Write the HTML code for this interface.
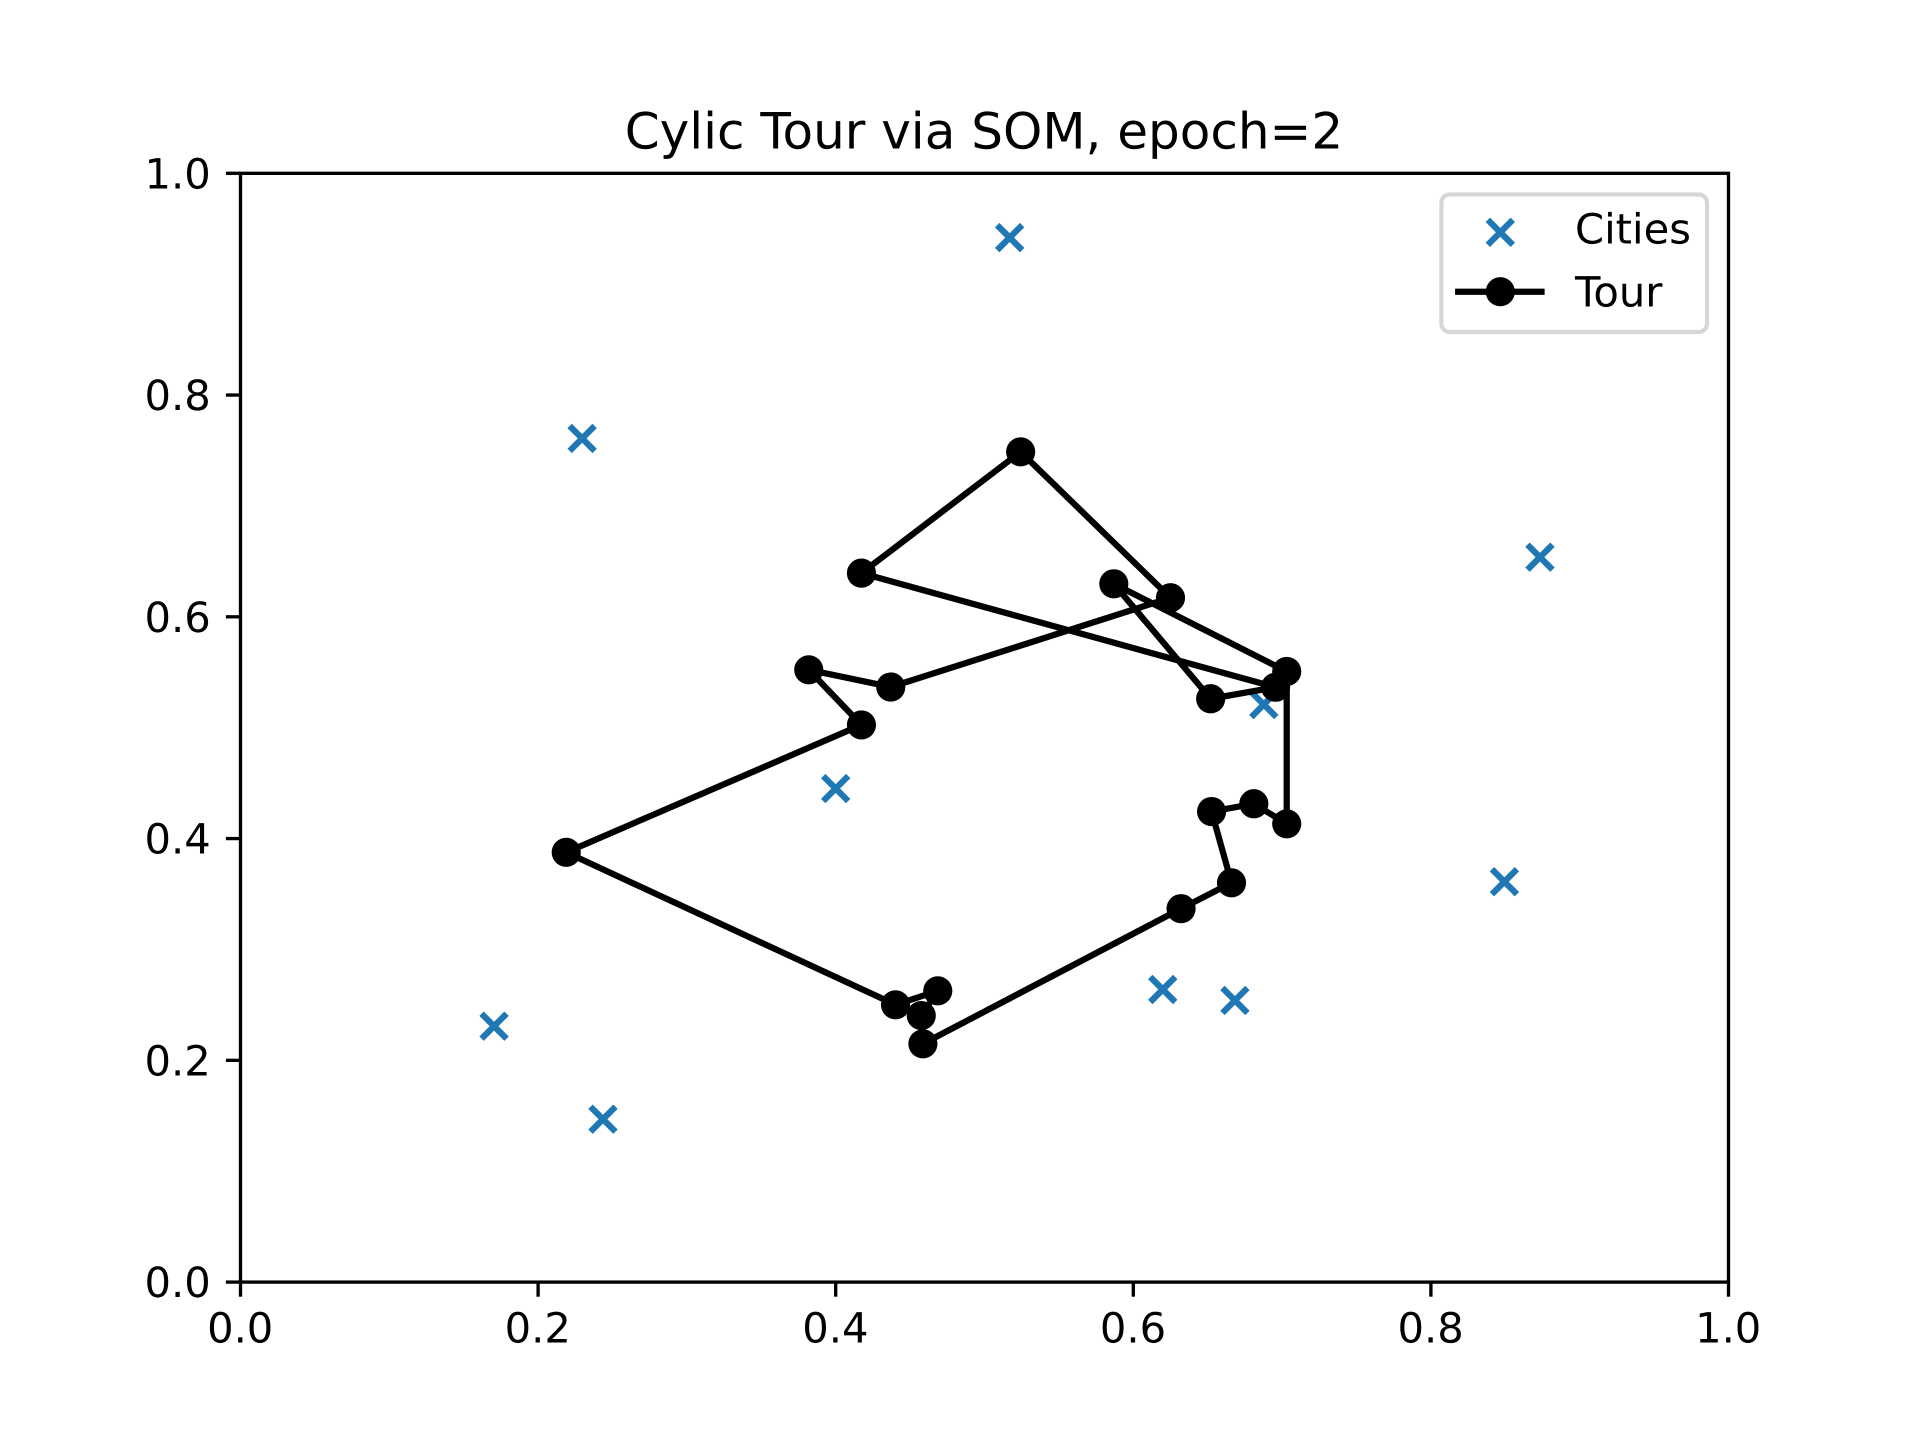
<!DOCTYPE html>
<html lang="en">
<head>
<meta charset="utf-8">
<title>Cylic Tour via SOM, epoch=2</title>
<style>
  html, body { margin: 0; padding: 0; background: #ffffff; }
  body { width: 1920px; height: 1440px; overflow: hidden; }
  svg { display: block; }
  text { font-family: "DejaVu Sans", "Liberation Sans", sans-serif; fill: #000000; text-rendering: geometricPrecision; }
</style>
</head>
<body>
<svg id="chart" xmlns="http://www.w3.org/2000/svg" width="1920" height="1440" viewBox="0 0 1920 1440">
  <rect x="0" y="0" width="1920" height="1440" fill="#ffffff"/>
  <rect x="240.5" y="173.3" width="1488" height="1108.8" fill="#ffffff"/>
  <g id="cities-layer"></g>
  <g id="tour-layer"></g>
  <g id="x-axis"></g>
  <g id="y-axis"></g>
  <rect x="240.5" y="173.3" width="1488" height="1108.8" fill="none" stroke="#000000" stroke-width="3.33"/>
  <text x="984" y="148.3" font-size="50" text-anchor="middle">Cylic Tour via SOM, epoch=2</text>
  <g>
    <rect x="1441.4" y="194.4" width="265.6" height="137.6" rx="8.3" ry="8.3" fill="#ffffff" fill-opacity="0.8" stroke="#d6d6d6" stroke-width="4.17"/>
    <g>
      <path d="M1487.8 219.8L1512.8 244.8M1487.8 244.8L1512.8 219.8" fill="none" stroke="#1f77b4" stroke-width="6.25"/>
      <text x="1575" y="243.3" font-size="41.67">Cities</text>
    </g>
    <g>
      <line x1="1458.2" y1="291.7" x2="1541.5" y2="291.7" stroke="#000000" stroke-width="6.25" stroke-linecap="square"/>
      <circle cx="1500.3" cy="291.7" r="14.58" fill="#000000"/>
      <text x="1575" y="306.7" font-size="41.67">Tour</text>
    </g>
  </g>
</svg>
<script>
const xTickValues = [0.0, 0.2, 0.4, 0.6, 0.8, 1.0];
const yTickValues = [0.0, 0.2, 0.4, 0.6, 0.8, 1.0];
const xTickLabels = ["0.0", "0.2", "0.4", "0.6", "0.8", "1.0"];
const yTickLabels = ["0.0", "0.2", "0.4", "0.6", "0.8", "1.0"];
const cityX = [0.5169, 0.2296, 0.8733, 0.6877, 0.4000, 0.8494, 0.6198, 0.6683, 0.1704, 0.2436];
const cityY = [0.9420, 0.7609, 0.6538, 0.5209, 0.4451, 0.3611, 0.2639, 0.2540, 0.2308, 0.1469];
const tourX = [0.5869, 0.6520, 0.6956, 0.4173, 0.5243, 0.6250, 0.4370, 0.3819, 0.4173, 0.2189, 0.4402, 0.4686, 0.4575, 0.4586, 0.6321, 0.6660, 0.6526, 0.6810, 0.7031, 0.7031];
const tourY = [0.6298, 0.5261, 0.5365, 0.6394, 0.7488, 0.6172, 0.5367, 0.5522, 0.5025, 0.3876, 0.2501, 0.2627, 0.2404, 0.2149, 0.3368, 0.3601, 0.4244, 0.4314, 0.4133, 0.5507];

const NS = "http://www.w3.org/2000/svg";
function xScale(v) { return 240.5 + v * 1488; }
function yScale(v) { return 1282.1 - v * 1108.8; }
function make(tag, parent) {
  const el = document.createElementNS(NS, tag);
  parent.appendChild(el);
  return el;
}

const citiesLayer = document.getElementById("cities-layer");
cityX.forEach(function (v, i) {
  const cx = xScale(v);
  const cy = yScale(cityY[i]);
  const h = 12.5;
  const city = make("path", citiesLayer);
  
  
  city.setAttribute("d", "M" + (cx - h) + " " + (cy - h) + "L" + (cx + h) + " " + (cy + h) + "M" + (cx - h) + " " + (cy + h) + "L" + (cx + h) + " " + (cy - h));
  city.setAttribute("fill", "none");
  city.setAttribute("stroke", "#1f77b4");
  city.setAttribute("stroke-width", "6.25");
});

const tourLayer = document.getElementById("tour-layer");
const tourLine = make("polygon", tourLayer);


tourLine.setAttribute("points", tourX.map(function (v, i) { return xScale(v) + "," + yScale(tourY[i]); }).join(" "));
tourLine.setAttribute("fill", "none");
tourLine.setAttribute("stroke", "#000000");
tourLine.setAttribute("stroke-width", "6.25");
tourLine.setAttribute("stroke-linejoin", "round");
tourX.forEach(function (v, i) {
  const node = make("circle", tourLayer);
  
  
  node.setAttribute("cx", xScale(v));
  node.setAttribute("cy", yScale(tourY[i]));
  node.setAttribute("r", "14.58");
  node.setAttribute("fill", "#000000");
});

const xAxis = document.getElementById("x-axis");
xTickValues.forEach(function (v, i) {
  const x = xScale(v);
  const tick = make("line", xAxis);
  
  
  tick.setAttribute("x1", x);
  tick.setAttribute("x2", x);
  tick.setAttribute("y1", yScale(0));
  tick.setAttribute("y2", yScale(0) + 14.6);
  tick.setAttribute("stroke", "#000000");
  tick.setAttribute("stroke-width", "3.33");
  const label = make("text", xAxis);
  
  
  label.setAttribute("x", x - 0.3);
  label.setAttribute("y", 1342.3);
  label.setAttribute("font-size", "41.67");
  label.setAttribute("text-anchor", "middle");
  label.textContent = xTickLabels[i];
});

const yAxis = document.getElementById("y-axis");
yTickValues.forEach(function (v, i) {
  const y = yScale(v);
  const tick = make("line", yAxis);
  
  
  tick.setAttribute("x1", xScale(0) - 14.6);
  tick.setAttribute("x2", xScale(0));
  tick.setAttribute("y1", y);
  tick.setAttribute("y2", y);
  tick.setAttribute("stroke", "#000000");
  tick.setAttribute("stroke-width", "3.33");
  const label = make("text", yAxis);
  
  
  label.setAttribute("x", 210.8);
  label.setAttribute("y", y + 15.1);
  label.setAttribute("font-size", "41.67");
  label.setAttribute("text-anchor", "end");
  label.textContent = yTickLabels[i];
});
</script>
</body>
</html>
